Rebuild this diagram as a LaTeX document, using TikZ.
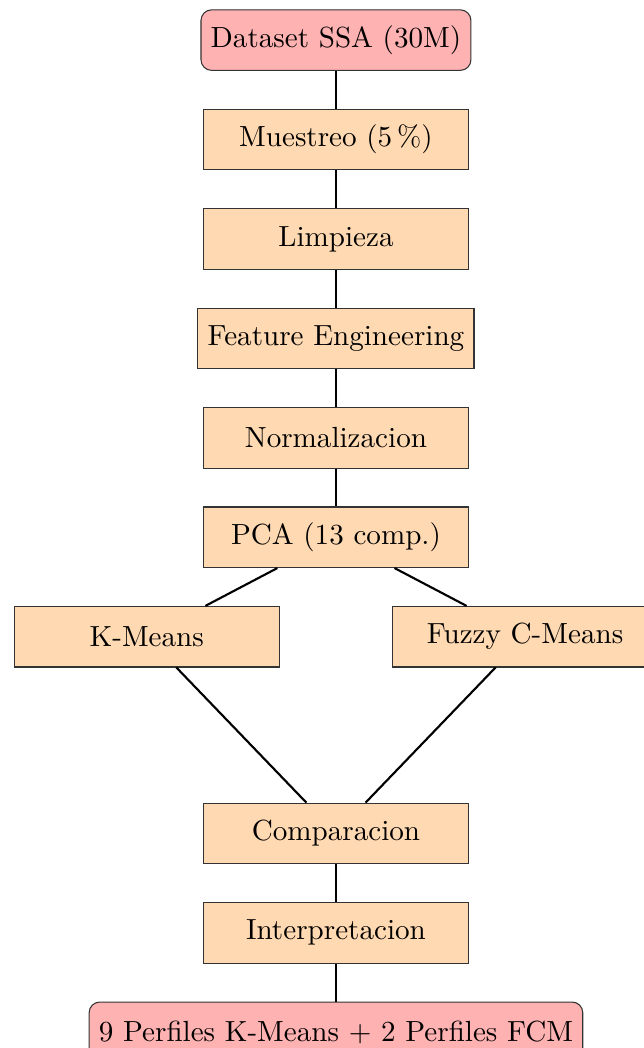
\documentclass[tikz,border=0pt,11pt]{standalone}
\usetikzlibrary{positioning}
\definecolor{StepClr}{rgb}{1,0.85,0.7}
\definecolor{EndClr}{rgb}{1,0.7,0.7}

\begin{document}
\begin{tikzpicture}[node distance=0.5cm,
  stepbox/.style={rectangle,draw=black!80,fill=StepClr,minimum width=3.5cm,minimum height=0.8cm},
  endbox/.style={rectangle,rounded corners,draw=black!80,fill=EndClr,minimum width=3.5cm,minimum height=0.8cm},
  link/.style={thick}]
\useasboundingbox (-4.44,0.53) rectangle (4.07,-13.32);

\node[endbox] (ds) at (0,0) {Dataset SSA (30M)};
\node[stepbox,below=of ds] (mues) {Muestreo (5\,\%)};
\node[stepbox,below=of mues] (limp) {Limpieza};
\node[stepbox,below=of limp] (feat) {Feature Engineering};
\node[stepbox,below=of feat] (norm) {Normalizacion};
\node[stepbox,below=of norm] (pca) {PCA (13 comp.)};

\node[stepbox,below=of pca,xshift=-2.5cm] (km) {K-Means};
\node[stepbox,below=of pca,xshift=2.5cm] (fcm) {Fuzzy C-Means};

\node[stepbox,below=3.1cm of pca] (comp) {Comparacion};
\node[stepbox,below=of comp] (interp) {Interpretacion};
\node[endbox,below=of interp] (perf) {9 Perfiles K-Means + 2 Perfiles FCM};

\draw[link] (ds) -- (mues);
\draw[link] (mues) -- (limp);
\draw[link] (limp) -- (feat);
\draw[link] (feat) -- (norm);
\draw[link] (norm) -- (pca);
\draw[link] (pca) -- (km);
\draw[link] (pca) -- (fcm);
\draw[link] (km) -- (comp);
\draw[link] (fcm) -- (comp);
\draw[link] (comp) -- (interp);
\draw[link] (interp) -- (perf);

\end{tikzpicture}
\end{document}
